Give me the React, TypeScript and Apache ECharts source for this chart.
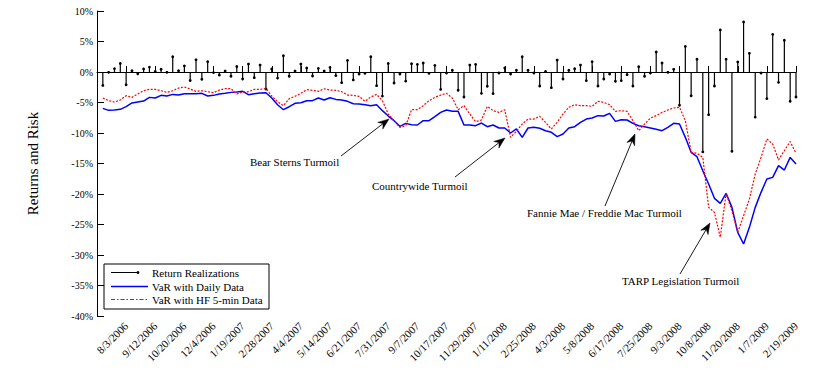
import React, { useEffect, useRef } from "react";
import * as echarts from "echarts";

const dateLabels = [
  "8/3/2006", "9/12/2006", "10/20/2006", "12/4/2006", "1/19/2007", "2/28/2007",
  "4/4/2007", "5/14/2007", "6/21/2007", "7/31/2007", "9/7/2007", "10/17/2007",
  "11/29/2007", "1/11/2008", "2/25/2008", "4/3/2008", "5/8/2008", "6/17/2008",
  "7/25/2008", "9/3/2008", "10/8/2008", "11/20/2008", "1/7/2009", "2/19/2009",
];

const returns = [
  -2.2, -0.05, 0.55, 1.4, -2.1, 0.2, -0.3, 0.5, 0.8, 0.1,
  0.45, -0.05, 2.5, 0.2, 1.0, -1.4, 2.0, -1.2, 1.7, -0.1,
  -0.5, 0.15, -0.7, 0.9, -1.15, 1.3, -0.93, 1.14, -2.8, 0.5,
  -1.0, 2.67, -0.7, 0.15, 1.3, 0.65, -0.66, 0.6, 0.15, 0.76,
  -0.6, -1.75, 1.9, -1.3, -0.33, -0.22, 2.5, -2.24, -3.95, 1.4,
  -1.8, -0.33, -1.5, 1.36, 1.25, 1.47, -0.22, 1.09, -2.85, -0.17,
  0.3, -3.0, -4.1, 1.14, 1.25, -3.5, -2.35, -3.55, -0.17, 0.65,
  -0.33, 0.3, 2.5, 0.3, -0.17, -2.3, 0.1, -2.57, 1.96, -1.15,
  0.3, 0.54, 1.14, -1.42, 1.7, -2.3, -1.15, -0.33, -1.53, -1.42,
  -0.44, -2.3, 0.87, -0.71, -0.17, 3.28, 1.47, -0.05, 0.44, -5.46,
  4.2, -3.9, 2.1, -13.1, -7.0, -2.3, 6.9, 2.1, -13.0, 1.65,
  8.2, 3.06, -7.4, -0.17, -4.37, 6.17, -1.7, 5.2, -4.8, -4.1,
];

const varDaily = [
  -5.96, -6.29, -6.23, -6.12, -5.68, -5.08, -4.92, -4.76, -4.16, -4.27,
  -3.83, -3.94, -3.67, -3.78, -3.56, -3.56, -3.56, -3.5, -3.94, -3.83,
  -3.61, -3.5, -3.34, -3.28, -3.17, -3.72, -3.56, -3.45, -3.39, -4.27,
  -5.36, -6.18, -5.69, -5.14, -5.03, -4.7, -4.7, -4.27, -4.59, -4.21,
  -4.49, -4.59, -4.81, -5.2, -5.25, -5.36, -5.52, -5.36, -6.34, -7.22,
  -7.98, -8.91, -8.42, -8.64, -8.69, -7.98, -7.98, -7.33, -6.62, -6.23,
  -6.45, -6.45, -8.69, -8.69, -8.8, -8.37, -8.97, -8.69, -9.18, -9.18,
  -10.0, -9.34, -10.71, -9.18, -9.07, -9.23, -9.62, -9.89, -10.6, -10.16,
  -9.18, -8.97, -8.26, -7.71, -7.55, -7.16, -7.22, -6.78, -8.09, -7.82,
  -7.87, -8.42, -8.8, -8.97, -9.18, -9.4, -9.62, -9.07, -8.42, -8.53,
  -10.71, -13.17, -13.88, -16.18, -18.36, -20.71, -21.53, -19.89, -22.19, -26.29,
  -28.2, -25.47, -22.19, -19.73, -17.55, -17.27, -15.36, -16.07, -14.0, -15.09,
];

const varHF = [
  -4.27, -4.7, -4.92, -4.59, -3.88, -4.16, -3.61, -3.07, -2.85, -2.85,
  -3.07, -3.34, -3.07, -2.63, -2.46, -2.79, -3.17, -3.07, -3.23, -3.39,
  -2.96, -2.74, -2.74, -3.61, -3.28, -3.23, -2.85, -2.85, -2.68, -3.94,
  -4.87, -5.52, -4.38, -3.99, -3.5, -2.9, -3.01, -3.17, -2.74, -2.96,
  -3.01, -3.23, -3.78, -3.83, -3.99, -4.81, -4.1, -3.67, -4.7, -6.89,
  -7.98, -9.07, -8.8, -6.18, -6.18, -5.52, -4.7, -4.16, -3.78, -3.5,
  -4.27, -6.18, -5.52, -6.89, -8.15, -7.87, -5.63, -6.34, -6.62, -6.18,
  -10.71, -9.73, -8.53, -7.71, -7.71, -7.27, -8.26, -9.34, -8.26, -6.89,
  -5.79, -5.36, -5.52, -5.52, -5.63, -4.81, -4.98, -5.36, -6.45, -6.34,
  -6.45, -7.98, -9.62, -8.53, -7.55, -7.16, -6.62, -6.23, -5.9, -5.79,
  -7.98, -13.17, -13.33, -13.99, -22.19, -23.01, -27.1, -19.89, -22.74, -26.29,
  -23.56, -20.82, -16.73, -13.99, -10.98, -11.8, -14.42, -12.89, -11.41, -13.33,
];

const legendNames = ["Return Realizations", "VaR with Daily Data", "VaR with HF 5-min Data"];

const annotations = [
  { text: "Bear Sterns Turmoil", tx: 250, ty: 162, from: [341, 156], to: [389, 119] },
  { text: "Countrywide Turmoil", tx: 372, ty: 186, from: [455, 177], to: [505, 138] },
  { text: "Fannie Mae / Freddie Mac Turmoil", tx: 527, ty: 213, from: [605, 206], to: [635, 134] },
  { text: "TARP Legislation Turmoil", tx: 622, ty: 281, from: [680, 274], to: [710, 223] },
];

const FONT = '"Liberation Serif", "DejaVu Serif", serif';

function arrowElements(from: number[], to: number[]) {
  const [x1, y1] = from;
  const [x2, y2] = to;
  const ang = Math.atan2(y2 - y1, x2 - x1);
  const c = Math.cos(ang);
  const s = Math.sin(ang);
  const L = 11;
  const W = 4.2;
  const N = 7.5;
  const bx = x2 - L * c;
  const by = y2 - L * s;
  const left = [bx - W * s, by + W * c];
  const right = [bx + W * s, by - W * c];
  const notch = [x2 - N * c, y2 - N * s];
  return [
    {
      type: "line",
      shape: { x1, y1, x2: notch[0], y2: notch[1] },
      style: { stroke: "#000", lineWidth: 0.9 },
      silent: true,
    },
    {
      type: "polygon",
      shape: { points: [[x2, y2], left, notch, right] },
      style: { fill: "#000", stroke: "#000", lineWidth: 0.5 },
      silent: true,
    },
  ];
}

function textEl(text: string, x: number, y: number, size = 11) {
  return {
    type: "text",
    silent: true,
    style: {
      text,
      x,
      y,
      font: `${size}px ${FONT}`,
      fill: "#000",
      textAlign: "left",
      align: "left",
      textVerticalAlign: "middle",
      verticalAlign: "middle",
    },
  };
}

export default function App() {
  const ref = useRef<HTMLDivElement>(null);

  useEffect(() => {
    if (!ref.current) return;
    const chart = echarts.init(ref.current, undefined, { renderer: "svg" });

    const retData = returns.map((v, i) => [i + 1, v]);
    const dailyData = varDaily.map((v, i) => [i + 1, v]);
    const hfData = varHF.map((v, i) => [i + 1, v]);

    const graphics: any[] = [];
    annotations.forEach((a) => {
      graphics.push(textEl(a.text, a.tx, a.ty));
      graphics.push(...arrowElements(a.from, a.to));
    });

    // legend box
    const lx = 104, ly = 264, lw = 165, lh = 45;
    const rows = [272.5, 286.5, 299.5];
    graphics.push({
      type: "rect",
      silent: true,
      shape: { x: lx, y: ly, width: lw, height: lh },
      style: { fill: "#fff", stroke: "#000", lineWidth: 1 },
      z: 10,
    });
    graphics.push({
      type: "line", silent: true, z: 11,
      shape: { x1: 111, y1: rows[0], x2: 138, y2: rows[0] },
      style: { stroke: "#000", lineWidth: 1 },
    });
    graphics.push({
      type: "circle", silent: true, z: 11,
      shape: { cx: 138, cy: rows[0], r: 1.4 },
      style: { fill: "#000" },
    });
    graphics.push({
      type: "line", silent: true, z: 11,
      shape: { x1: 111, y1: rows[1], x2: 148, y2: rows[1] },
      style: { stroke: "#0000ff", lineWidth: 1.5 },
    });
    graphics.push({
      type: "line", silent: true, z: 11,
      shape: { x1: 111, y1: rows[2], x2: 148, y2: rows[2] },
      style: { stroke: "#ff0000", lineWidth: 1.2, lineDash: [4, 2, 1.5, 2] },
    });
    legendNames.forEach((n, k) => {
      const t: any = textEl(n, 152, rows[k]);
      t.z = 11;
      graphics.push(t);
    });

    chart.setOption({
      animation: false,
      backgroundColor: "#fff",
      grid: { left: 97, right: 43, top: 11, bottom: 63, containLabel: false },
      xAxis: {
        type: "value",
        min: 0,
        max: 120,
        interval: 5,
        axisLine: { show: true, lineStyle: { color: "#000", width: 1 } },
        axisTick: { show: true, inside: true, length: 6, lineStyle: { color: "#000" } },
        splitLine: { show: false },
        axisLabel: {
          rotate: 45,
          margin: 8,
          fontSize: 11,
          fontFamily: FONT,
          color: "#000",
          showMinLabel: true,
          showMaxLabel: true,
          formatter: (v: number) => {
            const k = Math.round(v / 5) - 1;
            return k >= 0 && k < dateLabels.length ? dateLabels[k] : "";
          },
        },
      },
      yAxis: {
        type: "value",
        min: -40,
        max: 10,
        interval: 5,
        name: "Returns and Risk",
        nameLocation: "middle",
        nameRotate: 90,
        nameGap: 57,
        nameTextStyle: { fontSize: 15, fontFamily: FONT, color: "#000" },
        axisLine: { show: true, lineStyle: { color: "#000", width: 1 } },
        axisTick: { show: true, inside: true, length: 7, lineStyle: { color: "#000" } },
        splitLine: { show: false },
        axisLabel: {
          margin: 4,
          fontSize: 10,
          fontFamily: FONT,
          color: "#000",
          formatter: "{value}%",
        },
      },
      series: [
        {
          name: legendNames[0],
          type: "custom",
          data: retData,
          encode: { x: 0, y: 1 },
          z: 3,
          renderItem: (params: any, api: any) => {
            const x = api.value(0);
            const v = api.value(1);
            const p0 = api.coord([x, 0]);
            const p1 = api.coord([x, v]);
            return {
              type: "group",
              children: [
                {
                  type: "line",
                  shape: { x1: p0[0], y1: p0[1], x2: p1[0], y2: p1[1] },
                  style: { stroke: "#000", lineWidth: 1.2 },
                },
                {
                  type: "circle",
                  shape: { cx: p1[0], cy: p1[1], r: 1.4 },
                  style: { fill: "#000" },
                },
              ],
            };
          },
          markLine: {
            silent: true,
            symbol: "none",
            label: { show: false },
            lineStyle: { color: "#000", width: 1, type: "solid" },
            data: [{ yAxis: 0 }],
          },
        },
        {
          name: legendNames[1],
          type: "line",
          data: dailyData,
          showSymbol: false,
          z: 4,
          lineStyle: { color: "#0000ff", width: 1.5 },
          itemStyle: { color: "#0000ff" },
        },
        {
          name: legendNames[2],
          type: "line",
          data: hfData,
          showSymbol: false,
          z: 5,
          lineStyle: { color: "#ff0000", width: 1.2, type: [2, 1.5] },
          itemStyle: { color: "#ff0000" },
        },
      ],
      graphic: graphics,
    });

    return () => chart.dispose();
  }, []);

  return (
    <div
      ref={ref}
      style={{ position: "fixed", left: 0, top: 0, width: 839, height: 379, background: "#fff" }}
    />
  );
}
